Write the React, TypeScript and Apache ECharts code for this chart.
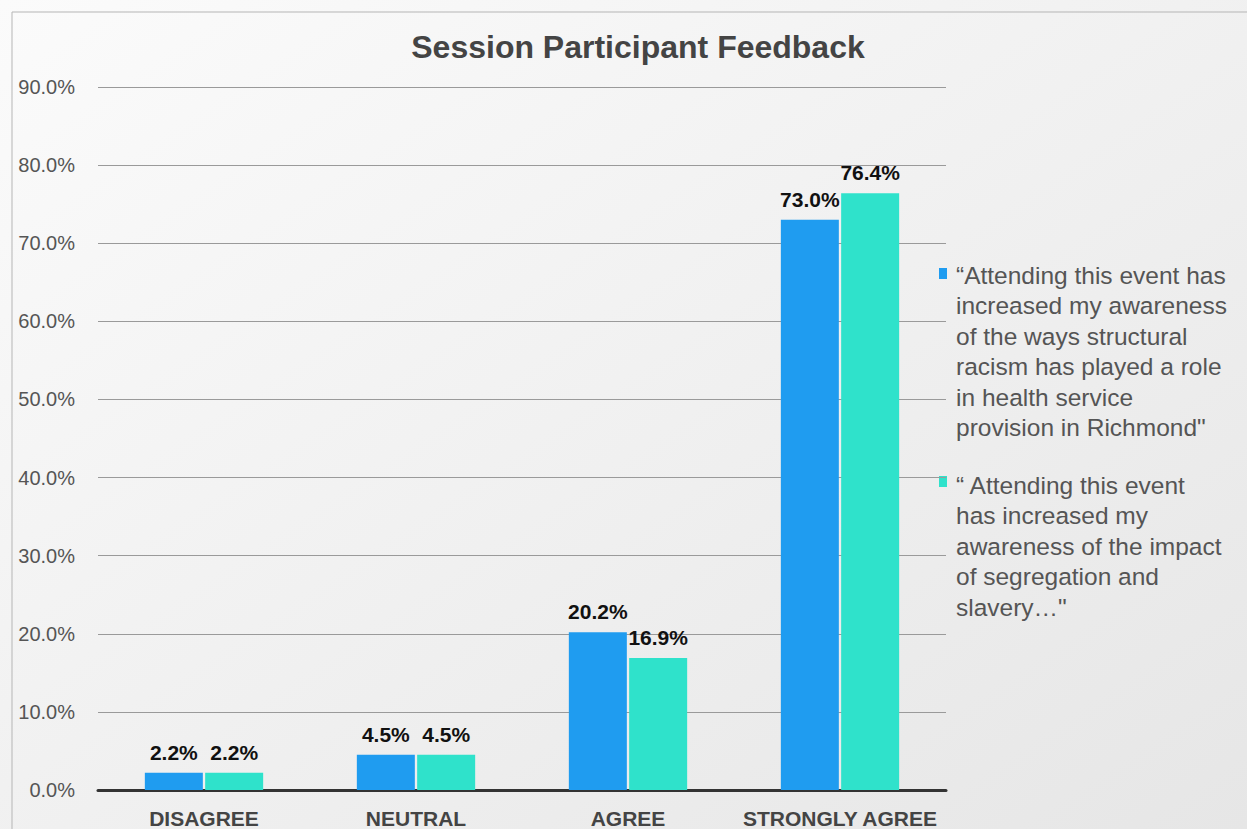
import React, { useEffect, useRef } from "react";
import * as echarts from "echarts";

const categories = ["DISAGREE", "NEUTRAL", "AGREE", "STRONGLY AGREE"];
const seriesNames = [
  "\u201CAttending this event has\nincreased my awareness\nof the ways structural\nracism has played a role\nin health service\nprovision in Richmond\"",
  "\u201C Attending this event\nhas increased my\nawareness of the impact\nof segregation and\nslavery\u2026\"",
];
const awarenessRacism = [2.2, 4.5, 20.2, 73.0];
const awarenessSegregation = [2.2, 4.5, 16.9, 76.4];
const colors = ["#1f9cf0", "#2fe2cb"];

const FONT = "'Liberation Sans', Arial, Helvetica, sans-serif";

export default function App() {
  const ref = useRef<HTMLDivElement>(null);
  useEffect(() => {
    if (!ref.current) return;
    const chart = echarts.init(ref.current, null, { renderer: "svg" });
    const labelCfg = {
      show: true,
      position: "top" as const,
      distance: 10,
      formatter: (p: any) => `${Number(p.value).toFixed(1)}%`,
      fontFamily: FONT,
      fontWeight: "bold" as const,
      fontSize: 21,
      color: "#111",
    };
    chart.setOption({
      animation: false,
      backgroundColor: {
        type: "linear",
        x: 0,
        y: 0,
        x2: 1,
        y2: 1,
        colorStops: [
          { offset: 0, color: "#fbfbfb" },
          { offset: 1, color: "#e6e6e6" },
        ],
      },
      title: {
        text: "Session Participant Feedback",
        left: 633,
        top: 26,
        textAlign: "center",
        textStyle: {
          fontFamily: FONT,
          fontWeight: "bold",
          fontSize: 32,
          color: "#444",
        },
      },
      grid: { left: 98, right: 301, top: 87, bottom: 39, containLabel: false },
      xAxis: {
        type: "category",
        data: categories,
        axisTick: { show: false },
        axisLine: { lineStyle: { color: "#333", width: 3 } },
        axisLabel: {
          interval: 0,
          hideOverlap: false,
          margin: 18,
          fontFamily: FONT,
          fontWeight: "bold",
          fontSize: 21,
          color: "#444",
        },
      },
      yAxis: {
        type: "value",
        min: 0,
        max: 90,
        interval: 10,
        axisLine: { show: false },
        axisTick: { show: false },
        splitLine: { lineStyle: { color: "#9a9a9a", width: 1 } },
        axisLabel: {
          formatter: (v: number) => `${v.toFixed(1)}%`,
          fontFamily: FONT,
          fontSize: 20,
          color: "#555",
          margin: 23,
        },
      },
      series: [
        {
          name: "s1",
          type: "bar",
          data: awarenessRacism,
          barWidth: 58,
          barGap: "4%",
          itemStyle: { color: colors[0] },
          label: labelCfg,
        },
        {
          name: "s2",
          type: "bar",
          data: awarenessSegregation,
          barWidth: 58,
          itemStyle: { color: colors[1] },
          label: labelCfg,
        },
      ],
      graphic: [
        {
          type: "line",
          shape: { x1: 12, y1: 12, x2: 1247, y2: 12 },
          style: { stroke: "#b5b5b5", lineWidth: 1 },
        },
        {
          type: "line",
          shape: { x1: 12, y1: 12, x2: 12, y2: 829 },
          style: { stroke: "#b5b5b5", lineWidth: 1 },
        },
        {
          type: "rect",
          shape: { x: 939, y: 268, width: 8, height: 11 },
          style: { fill: colors[0] },
        },
        {
          type: "text",
          x: 956,
          y: 260,
          style: {
            text: seriesNames[0],
            fontFamily: FONT,
            fontSize: 24.5,
            lineHeight: 30.5,
            fill: "#555",
          },
        },
        {
          type: "rect",
          shape: { x: 939, y: 476, width: 8, height: 11 },
          style: { fill: colors[1] },
        },
        {
          type: "text",
          x: 956,
          y: 470,
          style: {
            text: seriesNames[1],
            fontFamily: FONT,
            fontSize: 24.5,
            lineHeight: 30.5,
            fill: "#555",
          },
        },
      ],
    });
    return () => chart.dispose();
  }, []);
  return (
    <div
      ref={ref}
      style={{ position: "fixed", left: 0, top: 0, width: 1247, height: 829 }}
    />
  );
}
